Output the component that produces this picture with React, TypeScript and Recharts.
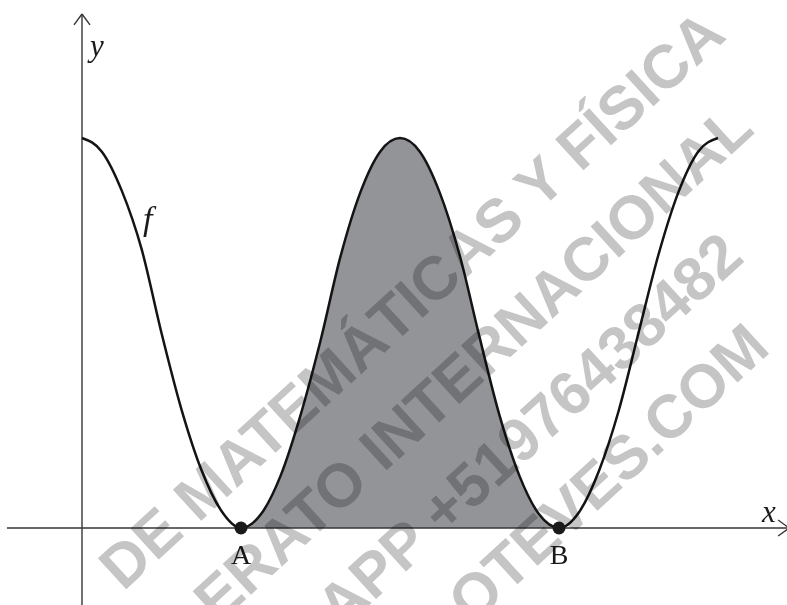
import React from 'react'
import { ComposedChart, Line, Area, XAxis, YAxis, ReferenceLine, ReferenceDot, Label } from 'recharts'

// x in half-periods: peaks at 0, 2, 4 and touch points A = 1, B = 3
const xs = [
  0, 0.125, 0.25, 0.375, 0.5, 0.625, 0.75, 0.875,
  1, 1.125, 1.25, 1.375, 1.5, 1.625, 1.75, 1.875,
  2, 2.125, 2.25, 2.375, 2.5, 2.625, 2.75, 2.875,
  3, 3.125, 3.25, 3.375, 3.5, 3.625, 3.75, 3.875,
  4,
]

// f(x) (peak height = 1)
const fValues = [
  1.0, 0.965, 0.865, 0.715, 0.5, 0.305, 0.15, 0.045,
  0, 0.035, 0.135, 0.29, 0.48, 0.695, 0.86, 0.965,
  1.0, 0.965, 0.86, 0.7, 0.49, 0.29, 0.135, 0.035,
  0, 0.04, 0.145, 0.3, 0.5, 0.7, 0.86, 0.965,
  1.0,
]

const shadeFrom = 1
const shadeTo = 3

const points = [
  { name: 'A', x: 1 },
  { name: 'B', x: 3 },
]

const watermark = [
  { text: 'DE MATEMÁTICAS Y FÍSICA', x: 728, y: 38 },
  { text: 'BACHILLERATO INTERNACIONAL', x: 756, y: 132 },
  { text: 'WHATSAPP +51976438482', x: 746, y: 260 },
  { text: 'OTEVES.COM', x: 772, y: 351 },
]

const data = xs.map((x, i) => ({
  x,
  f: fValues[i],
  shade: x >= shadeFrom && x <= shadeTo ? fValues[i] : null,
}))

const axisColor = '#363636'
const serif = '"Liberation Serif", "Times New Roman", serif'

export default function App() {
  return (
    <div style={{ position: 'absolute', left: 0, top: 0, width: 787, height: 605, background: '#fff' }}>
      <ComposedChart width={787} height={605} data={data} margin={{ top: 0, right: 0, bottom: 0, left: 0 }}>
        <XAxis dataKey="x" type="number" domain={[-0.5157, 4.434]} hide allowDataOverflow />
        <YAxis type="number" domain={[-0.1974, 1.3538]} hide allowDataOverflow />

        <Area
          dataKey="shade"
          type="monotone"
          baseValue={0}
          fill="#929497"
          fillOpacity={1}
          stroke="none"
          isAnimationActive={false}
        />

        {/* x axis with arrow */}
        <ReferenceLine segment={[{ x: -0.472, y: 0 }, { x: 4.447, y: 0 }]} stroke={axisColor} strokeWidth={1.4} ifOverflow="visible" />
        <ReferenceLine segment={[{ x: 4.378, y: 0.0205 }, { x: 4.447, y: 0 }]} stroke={axisColor} strokeWidth={1.4} ifOverflow="visible" />
        <ReferenceLine segment={[{ x: 4.378, y: -0.0205 }, { x: 4.447, y: 0 }]} stroke={axisColor} strokeWidth={1.4} ifOverflow="visible" />

        {/* y axis with arrow */}
        <ReferenceLine segment={[{ x: 0, y: -0.1974 }, { x: 0, y: 1.318 }]} stroke={axisColor} strokeWidth={1.4} ifOverflow="visible" />
        <ReferenceLine segment={[{ x: -0.0503, y: 1.29 }, { x: 0, y: 1.318 }]} stroke={axisColor} strokeWidth={1.4} ifOverflow="visible" />
        <ReferenceLine segment={[{ x: 0.0503, y: 1.29 }, { x: 0, y: 1.318 }]} stroke={axisColor} strokeWidth={1.4} ifOverflow="visible" />

        <Line
          dataKey="f"
          type="monotone"
          stroke="#141414"
          strokeWidth={2.5}
          dot={false}
          activeDot={false}
          isAnimationActive={false}
        />

        {points.map((p) => (
          <ReferenceDot key={p.name} x={p.x} y={0} r={6.5} fill="#1a1a1a" stroke="none" ifOverflow="visible">
            <Label value={p.name} position="bottom" offset={10} fontSize={28} fontFamily={serif} fill="#1a1a1a" />
          </ReferenceDot>
        ))}
      </ComposedChart>

      <svg
        width={787}
        height={605}
        style={{ position: 'absolute', left: 0, top: 0, pointerEvents: 'none', mixBlendMode: 'multiply' }}
      >
        <text x={762} y={522} fontFamily={serif} fontStyle="italic" fontSize={31} fill="#1a1a1a">x</text>
        <text x={90} y={56} fontFamily={serif} fontStyle="italic" fontSize={31} fill="#1a1a1a">y</text>
        <text x={143} y={230} fontFamily={serif} fontStyle="italic" fontSize={34} fill="#1a1a1a">f</text>
        {watermark.map((w) => (
          <text
            key={w.text}
            transform={`translate(${w.x},${w.y}) rotate(-42.5)`}
            textAnchor="end"
            fontFamily='"Liberation Sans", Arial, sans-serif'
            fontWeight="bold"
            fontSize={61}
            fill="#c5c5c5"
          >
            {w.text}
          </text>
        ))}
      </svg>
    </div>
  )
}
